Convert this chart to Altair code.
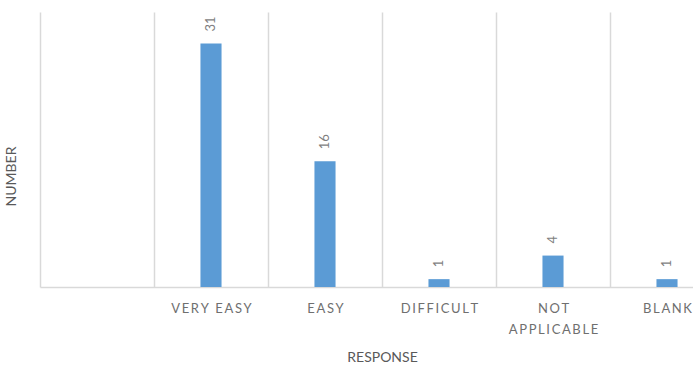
import json
import altair as alt
import pandas as pd

# Survey responses and their counts (first slot has no label and no bar)
categories = ["", "VERY EASY", "EASY", "DIFFICULT", "NOT APPLICABLE", "BLANK"]
counts = [None, 31, 16, 1, 4, 1]

df = pd.DataFrame({"response": categories, "number": counts})

THIN = "\u2009"


def spaced(word):
    return THIN.join(word)


# Tick labels drawn with wide letter spacing; long ones split over two lines
def display_label(cat):
    if cat == "NOT APPLICABLE":
        return [spaced("NOT"), spaced("APPLICABLE")]
    return spaced(cat)


expr = "''"
for cat in reversed(categories):
    if cat:
        expr = f"datum.label == {json.dumps(cat)} ? {json.dumps(display_label(cat))} : {expr}"

FONT = "Lato"
GREY = "#595959"
LABEL_GREY = "#6f6f6f"
GRID = "#d9d9d9"

x_enc = alt.X(
    "response:N",
    sort=categories,
    scale=alt.Scale(domain=categories, range=[0, 684], paddingInner=0, paddingOuter=0),
    axis=alt.Axis(
        title="RESPONSE",
        titleFont=FONT,
        titleFontSize=14,
        titleFontWeight="normal",
        titleColor=GREY,
        titleX=342,
        titleY=63,
        labelAngle=0,
        labelExpr=expr,
        labelFont=FONT,
        labelFontSize=13,
        labelColor=LABEL_GREY,
        labelPadding=15,
        labelLineHeight=21,
        labelBaseline="top",
        ticks=False,
        grid=True,
        gridColor=GRID,
        gridWidth=1.5,
        tickBand="extent",
        domainColor=GRID,
        domainWidth=1.5,
    ),
)

y_enc = alt.Y(
    "number:Q",
    scale=alt.Scale(domain=[0, 35], nice=False),
    axis=alt.Axis(
        title="NUMBER",
        titleFont=FONT,
        titleFontSize=14,
        titleFontWeight="normal",
        titleColor=GREY,
        titleX=-22,
        titleY=164,
        labels=False,
        ticks=False,
        grid=False,
        domain=False,
    ),
)

bars = alt.Chart(df).mark_bar(
    color="#5b9bd5", width=alt.RelativeBandSize(0.185)
).encode(x=x_enc, y=y_enc)

labels = alt.Chart(df).mark_text(
    angle=270,
    align="left",
    baseline="middle",
    dx=12,
    font=FONT,
    fontSize=13,
    color="#7f7f7f",
).encode(x=x_enc, y=y_enc, text=alt.Text("number:Q", format="d"))

chart = (
    alt.layer(bars, labels)
    .properties(
        width=653,
        height=275,
        autosize=alt.AutoSizeParams(type="none"),
        padding={"left": 40, "top": 12, "right": 0, "bottom": 83},
        background="white",
    )
    .configure_view(stroke=None)
)

chart.save("out.html", embed_options={"renderer": "svg", "actions": False})
